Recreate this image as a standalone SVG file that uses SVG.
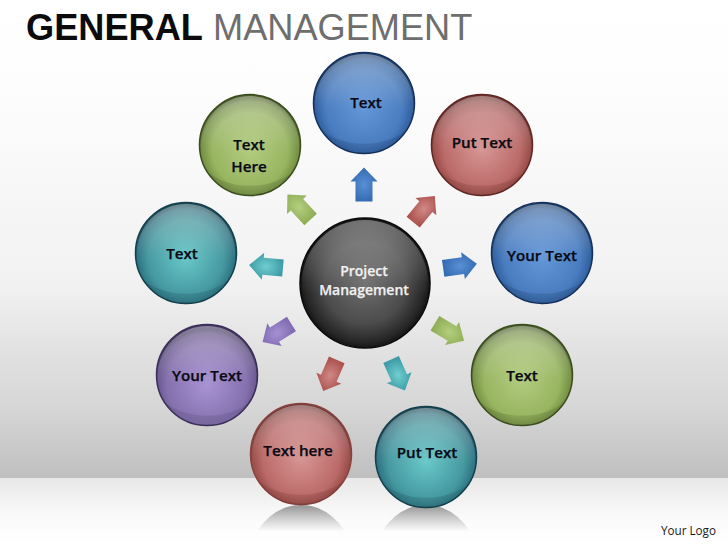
<svg xmlns="http://www.w3.org/2000/svg" width="728" height="546" viewBox="0 0 728 546">
<style>
.t{font-family:"Open Sans","Liberation Sans",sans-serif;font-weight:600;font-size:15.2px;text-anchor:middle;fill:#0a0a14;stroke:#0a0a14;stroke-width:.25px}
.w{fill:#f0f0f0;stroke:#f0f0f0;font-size:14px}
.h{font-family:"Liberation Sans",Arial,sans-serif;font-size:36.2px}
.gloss{fill:url(#gl)}
.ar{stroke:none}
</style>
<defs>
<linearGradient id="bg" x1="0" y1="0" x2="0" y2="1"><stop offset="0" stop-color="#fff"/><stop offset=".2" stop-color="#fdfdfd"/><stop offset=".6" stop-color="#f1f1f1"/><stop offset=".72" stop-color="#e3e3e3"/><stop offset=".86" stop-color="#d5d5d5"/><stop offset="1" stop-color="#bfbfbf"/></linearGradient>
<linearGradient id="fl" x1="0" y1="0" x2="0" y2="1"><stop offset="0" stop-color="#e8e8e8"/><stop offset=".6" stop-color="#fbfbfb"/><stop offset="1" stop-color="#fff"/></linearGradient>
<linearGradient id="gl" x1="0" y1="0" x2="0" y2="1"><stop offset="0" stop-color="#e8e8e8" stop-opacity=".42"/><stop offset=".5" stop-color="#fff" stop-opacity=".04"/><stop offset=".6" stop-color="#fff" stop-opacity="0"/></linearGradient>
<linearGradient id="rf" x1="0" y1="0" x2="0" y2="1"><stop offset="0" stop-color="#949494"/><stop offset=".5" stop-color="#cccccc"/><stop offset="1" stop-color="#fbfbfb"/></linearGradient>
<radialGradient id="blue" cx=".5" cy=".55" r=".52"><stop offset="0" stop-color="#6497d8"/><stop offset=".72" stop-color="#4a7dc0"/><stop offset=".93" stop-color="#2f5f9f"/><stop offset="1" stop-color="#1f4272"/></radialGradient>
<radialGradient id="red" cx=".5" cy=".55" r=".52"><stop offset="0" stop-color="#d69593"/><stop offset=".72" stop-color="#bb6b69"/><stop offset=".93" stop-color="#994b48"/><stop offset="1" stop-color="#723432"/></radialGradient>
<radialGradient id="green" cx=".5" cy=".55" r=".52"><stop offset="0" stop-color="#b2cc7f"/><stop offset=".72" stop-color="#98b561"/><stop offset=".93" stop-color="#728e42"/><stop offset="1" stop-color="#4d622b"/></radialGradient>
<radialGradient id="teal" cx=".5" cy=".55" r=".52"><stop offset="0" stop-color="#68c8c9"/><stop offset=".72" stop-color="#45989f"/><stop offset=".93" stop-color="#2d7282"/><stop offset="1" stop-color="#1c4c5a"/></radialGradient>
<radialGradient id="purple" cx=".5" cy=".6" r=".55"><stop offset="0" stop-color="#a993d3"/><stop offset=".72" stop-color="#8570ae"/><stop offset=".93" stop-color="#625189"/><stop offset="1" stop-color="#443862"/></radialGradient>
<radialGradient id="dark" cx=".5" cy=".5" r=".52"><stop offset="0" stop-color="#6e6e6e"/><stop offset=".6" stop-color="#4c4c4c"/><stop offset=".88" stop-color="#262626"/><stop offset="1" stop-color="#0c0c0c"/></radialGradient>
<radialGradient id="ablue" cx=".5" cy=".5" r=".6"><stop offset="0" stop-color="#5a90d4"/><stop offset="1" stop-color="#2d65ad"/></radialGradient>
<radialGradient id="ared" cx=".5" cy=".5" r=".6"><stop offset="0" stop-color="#d08a88"/><stop offset="1" stop-color="#a64845"/></radialGradient>
<radialGradient id="agreen" cx=".5" cy=".5" r=".6"><stop offset="0" stop-color="#b4cf80"/><stop offset="1" stop-color="#8aa94f"/></radialGradient>
<radialGradient id="ateal" cx=".5" cy=".5" r=".6"><stop offset="0" stop-color="#70cfd0"/><stop offset="1" stop-color="#35929f"/></radialGradient>
<radialGradient id="apurple" cx=".5" cy=".5" r=".6"><stop offset="0" stop-color="#a692d2"/><stop offset="1" stop-color="#7a64ad"/></radialGradient>
<polygon id="arrow" points="-17,-8.5 3,-8.5 3,-13.5 17,0 3,13.5 3,8.5 -17,8.5"/>
</defs>

<rect x="0" y="0" width="728" height="478" fill="url(#bg)"/>
<rect x="0" y="478" width="728" height="68" fill="url(#fl)"/>
<path d="M257 531 Q275 505 301 505 Q327 505 345 531 Z" fill="url(#rf)"/>
<path d="M382 531 Q400 505 426 505 Q452 505 470 531 Z" fill="url(#rf)"/>

<text class="h" x="26" y="40" font-weight="700" fill="#0b0b0b">GENERAL</text>
<text class="h" x="213" y="40" fill="#6e6e6e">MANAGEMENT</text>

<g id="connectors">
<use href="#arrow" class="ar" fill="url(#ablue)" transform="translate(364 184.500) rotate(-90)"/>
<use href="#arrow" class="ar" fill="url(#ared)" transform="translate(424 209) rotate(-50.500)"/>
<use href="#arrow" class="ar" fill="url(#ablue)" transform="translate(460 266) rotate(-8)"/>
<use href="#arrow" class="ar" fill="url(#agreen)" transform="translate(449.500 332) rotate(31)"/>
<use href="#arrow" class="ar" fill="url(#ateal)" transform="translate(398 375) rotate(66)"/>
<use href="#arrow" class="ar" fill="url(#ared)" transform="translate(330 375.500) rotate(113.500)"/>
<use href="#arrow" class="ar" fill="url(#apurple)" transform="translate(277 333) rotate(148)"/>
<use href="#arrow" class="ar" fill="url(#ateal)" transform="translate(266 266.500) rotate(185)"/>
<use href="#arrow" class="ar" fill="url(#agreen)" transform="translate(299 207) rotate(227)"/>
</g>

<g id="node-center">
<circle cx="365" cy="283" r="65" fill="url(#dark)" stroke="#0a0a0a" stroke-width="1.500"/>
<circle cx="365" cy="283" r="63" class="gloss"/>
<text class="t w" x="364" y="276">Project</text>
<text class="t w" x="364" y="295">Management</text>
</g>
<g id="node-1">
<circle cx="364" cy="103" r="50.500" fill="url(#blue)" stroke="#16305a" stroke-width="1.500"/>
<circle cx="364" cy="103" r="49" class="gloss"/>
<path d="M320 128 A50 50 0 0 0 408 128 A50 30 0 0 1 320 128Z" fill="#16305a" fill-opacity=".2"/>
<text class="t" x="366" y="108">Text</text>
</g>
<g id="node-2">
<circle cx="482" cy="145" r="50.500" fill="url(#red)" stroke="#5e2624" stroke-width="1.500"/>
<circle cx="482" cy="145" r="49" class="gloss"/>
<path d="M438 170 A50 50 0 0 0 526 170 A50 30 0 0 1 438 170Z" fill="#5e2624" fill-opacity=".2"/>
<text class="t" x="482" y="148">Put Text</text>
</g>
<g id="node-3">
<circle cx="542" cy="253" r="50.500" fill="url(#blue)" stroke="#16305a" stroke-width="1.500"/>
<circle cx="542" cy="253" r="49" class="gloss"/>
<path d="M498 278 A50 50 0 0 0 586 278 A50 30 0 0 1 498 278Z" fill="#16305a" fill-opacity=".2"/>
<text class="t" x="542" y="261">Your Text</text>
</g>
<g id="node-4">
<circle cx="522" cy="375" r="50.500" fill="url(#green)" stroke="#3b4d1f" stroke-width="1.500"/>
<circle cx="522" cy="375" r="49" class="gloss"/>
<path d="M478 400 A50 50 0 0 0 566 400 A50 30 0 0 1 478 400Z" fill="#3b4d1f" fill-opacity=".2"/>
<text class="t" x="522" y="381">Text</text>
</g>
<g id="node-5">
<circle cx="426" cy="457" r="50.500" fill="url(#teal)" stroke="#143f4c" stroke-width="1.500"/>
<circle cx="426" cy="457" r="49" class="gloss"/>
<path d="M382 482 A50 50 0 0 0 470 482 A50 30 0 0 1 382 482Z" fill="#143f4c" fill-opacity=".2"/>
<text class="t" x="427" y="458">Put Text</text>
</g>
<g id="node-6">
<circle cx="301" cy="454" r="50.500" fill="url(#red)" stroke="#8a4240" stroke-width="1.500"/>
<circle cx="301" cy="454" r="49" class="gloss"/>
<path d="M257 479 A50 50 0 0 0 345 479 A50 30 0 0 1 257 479Z" fill="#5e2624" fill-opacity=".2"/>
<text class="t" x="298" y="456">Text here</text>
</g>
<g id="node-7">
<circle cx="207" cy="375" r="50.500" fill="url(#purple)" stroke="#3a2f58" stroke-width="1.500"/>
<circle cx="207" cy="375" r="49" class="gloss"/>
<path d="M163 400 A50 50 0 0 0 251 400 A50 30 0 0 1 163 400Z" fill="#3a2f58" fill-opacity=".16"/>
<text class="t" x="207" y="381">Your Text</text>
</g>
<g id="node-8">
<circle cx="186" cy="253" r="50.500" fill="url(#teal)" stroke="#143f4c" stroke-width="1.500"/>
<circle cx="186" cy="253" r="49" class="gloss"/>
<path d="M142 278 A50 50 0 0 0 230 278 A50 30 0 0 1 142 278Z" fill="#143f4c" fill-opacity=".2"/>
<text class="t" x="182" y="259">Text</text>
</g>
<g id="node-9">
<circle cx="250" cy="145" r="50.500" fill="url(#green)" stroke="#3b4d1f" stroke-width="1.500"/>
<circle cx="250" cy="145" r="49" class="gloss"/>
<path d="M206 170 A50 50 0 0 0 294 170 A50 30 0 0 1 206 170Z" fill="#3b4d1f" fill-opacity=".2"/>
<text class="t" x="249" y="150">Text</text>
<text class="t" x="249" y="172">Here</text>
</g>
<text x="716" y="535" text-anchor="end" font-family="'Open Sans','Liberation Sans',sans-serif" font-size="11.700" fill="#1a1a1a">Your Logo</text>
</svg>
